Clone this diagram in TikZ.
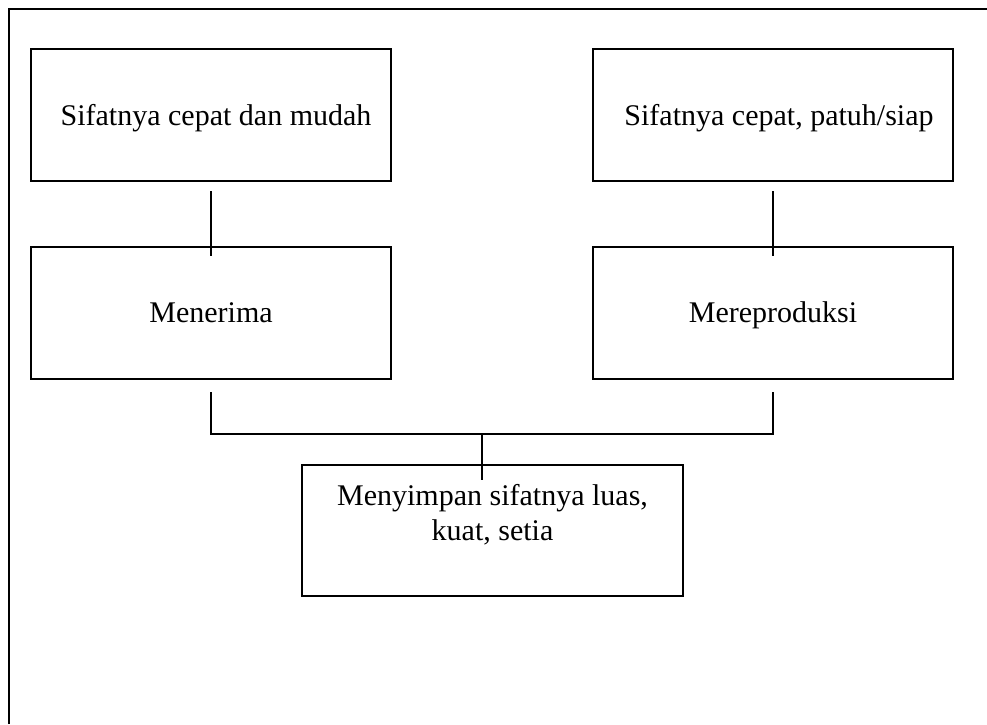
\documentclass[tikz,border=0pt]{standalone}
\usepackage{fontspec}
\setmainfont{Liberation Serif}
\begin{document}
\begin{tikzpicture}[x=1pt,y=1pt,
  box/.style={draw=black, line width=2pt, minimum width=360pt, minimum height=132pt, inner sep=0pt},
  lbl/.style={font=\fontsize{30}{35}\selectfont, align=center, inner sep=0pt, anchor=base},
  conn/.style={draw=black, line width=2pt}]
\useasboundingbox (0,0) rectangle (987,-724);
\fill[white] (0,0) rectangle (987,-724);
% outer frame (left and top sides only visible)
\coordinate (frameBL) at (9,-724);
\coordinate (frameTL) at (9,-9);
\coordinate (frameTR) at (987,-9);
\draw[line width=2.2pt] (frameBL) -- (frameTL) -- (frameTR);
% boxes
\node[box] (A) at (211,-115) {};
\node[lbl] (Atxt) at (216,-125) {Sifatnya cepat dan mudah};
\node[box] (B) at (773,-115) {};
\node[lbl] (Btxt) at (779,-125) {Sifatnya cepat, patuh/siap};
\node[box] (M) at (211,-313) {};
\node[lbl] (Mtxt) at (211,-322) {Menerima};
\node[box] (R) at (773,-312.5) {};
\node[lbl] (Rtxt) at (773,-322) {Mereproduksi};
\node[box, minimum width=381pt, minimum height=131pt] (C) at (492.5,-530.5) {};
\node[lbl] (Ctxt1) at (492.5,-505) {Menyimpan sifatnya luas,};
\node[lbl] (Ctxt2) at (492.5,-540) {kuat, setia};
% connectors
\draw[conn] ([yshift=-9pt]A.south) -- ([yshift=-10pt]M.north);
\draw[conn] ([yshift=-9pt]B.south) -- ([yshift=-10pt]R.north);
\draw[conn] ([yshift=-12pt]M.south) |- ([yshift=30pt]C.north) -| ([yshift=-12pt]R.south);
\draw[conn] ([xshift=-11pt,yshift=30pt]C.north) -- ([xshift=-11pt,yshift=-16pt]C.north);
\end{tikzpicture}
\end{document}
